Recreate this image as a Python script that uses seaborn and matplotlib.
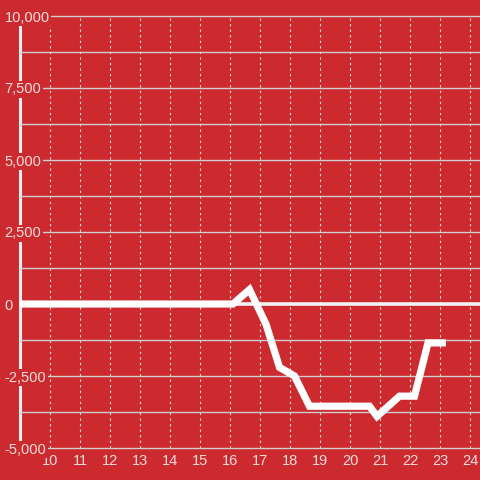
import matplotlib
matplotlib.use("Agg")
import matplotlib.pyplot as plt
import seaborn as sns
import numpy as np
import pandas as pd
from matplotlib.ticker import FixedLocator, MultipleLocator

# ---- data ----
hours = [9, 16.1, 16.65, 17.2, 17.65, 18.15, 18.65, 20.65, 20.9, 21.65, 22.15, 22.6, 23.2]
values = [0, 0, 500, -700, -2200, -2500, -3550, -3550, -3900, -3200, -3200, -1350, -1350]
x_ticks = list(range(10, 25))
y_ticks = [10000, 7500, 5000, 2500, 0, -2500, -5000]
y_tick_labels = ["10,000", "7,500", "5,000", "2,500", "0", "-2,500", "-5,000"]

BG = "#cc2a2f"
GRID = "#cfcfcf"
TXT = "#f3dede"

sns.set_theme(style="white")
plt.rcParams["font.family"] = ["Liberation Sans", "DejaVu Sans"]

fig = plt.figure(figsize=(4.8, 4.8), dpi=100, facecolor=BG)
ax = fig.add_axes([20 / 480, 32 / 480, 460 / 480, 432 / 480])
ax.set_facecolor(BG)

df = pd.DataFrame({"hour": hours, "value": values})
sns.lineplot(data=df, x="hour", y="value", ax=ax, sort=False, estimator=None,
             color="white", linewidth=5.2, zorder=5)
for ln in ax.get_lines():
    ln.set_solid_joinstyle("miter")
    ln.set_solid_capstyle("butt")

ax.axhline(0, color="#f2f2f2", linewidth=2.6, zorder=4)

ax.set_xlim(9, 24.333)
ax.set_ylim(-5000, 10000)
ax.set_xlabel("")
ax.set_ylabel("")

ax.xaxis.set_major_locator(FixedLocator(x_ticks))
ax.set_xticklabels([str(t) for t in x_ticks])
ax.yaxis.set_major_locator(FixedLocator(y_ticks))
ax.yaxis.set_minor_locator(FixedLocator([8750, 6250, 3750, 1250, -1250, -3750]))
ax.set_yticklabels(y_tick_labels)

ax.tick_params(axis="both", which="both", length=0, colors=TXT, labelsize=10.5)
ax.tick_params(axis="x", pad=4.5)
ax.tick_params(axis="y", pad=11)
for lab in ax.get_yticklabels():
    lab.set_ha("left")
    lab.set_bbox(dict(facecolor=BG, edgecolor="none", pad=1.2))

ax.grid(False)
ax.yaxis.grid(True, which="both", color=GRID, linewidth=1.0, linestyle="-")
ax.xaxis.grid(True, which="major", color="#e6e6e6", linewidth=0.8, linestyle=(0, (2, 3)))
for t in ax.yaxis.get_major_ticks() + ax.yaxis.get_minor_ticks() + ax.xaxis.get_major_ticks():
    t.gridline.set_clip_on(False)

ax.yaxis.set_zorder(3)
for s in ["top", "right", "bottom"]:
    ax.spines[s].set_visible(False)
ax.spines["left"].set_color("#eeeeee")
ax.spines["left"].set_linewidth(2.2)
ax.spines["left"].set_zorder(2)

fig.savefig("out.png", dpi=100, facecolor=BG)
